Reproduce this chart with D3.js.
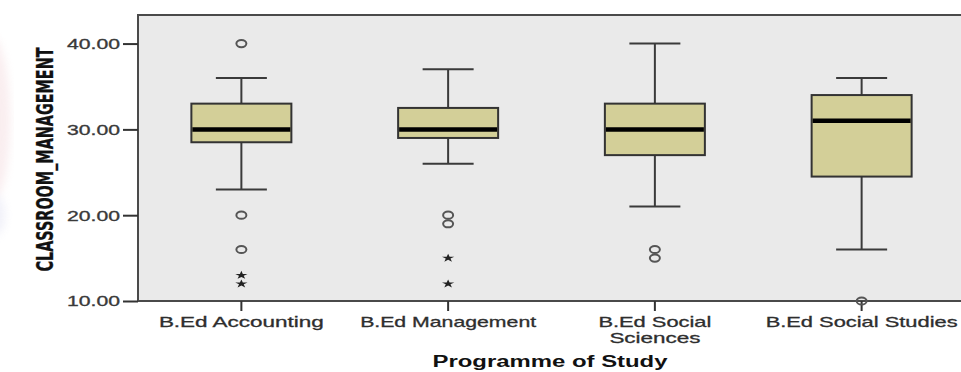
<!DOCTYPE html>
<html>
<head>
<meta charset="utf-8">
<script src="https://cdn.jsdelivr.net/npm/d3@7"></script>
<style>
  html, body { margin: 0; padding: 0; background: #ffffff; }
  svg { display: block; }
</style>
</head>
<body>
<svg id="chart" width="961" height="372"></svg>
<script>
// Boxplot of classroom management scores by programme of study
const categories = ["B.Ed Accounting", "B.Ed Management", "B.Ed Social Sciences", "B.Ed Social Studies"];
const categoryLines = [["B.Ed Accounting"], ["B.Ed Management"], ["B.Ed Social", "Sciences"], ["B.Ed Social Studies"]];
const whiskerLow  = [23, 26, 21, 16];
const q1          = [28.5, 29, 27, 24.5];
const median      = [30, 30, 30, 31];
const q3          = [33, 32.5, 33, 34];
const whiskerHigh = [36, 37, 40, 36];
// outliers (circles) and extreme values (stars)
const outlierCircles = [[40, 20, 16], [20, 19], [16, 15], [10]];
const extremeStars   = [[13, 12], [15, 12], [], []];
const yTicks = [10, 20, 30, 40];

const svg = d3.select("#chart");
const plot = { left: 138, right: 965, top: 15, bottom: 301 };

const x = d3.scaleBand().domain(categories).range([plot.left, plot.right]).padding(0);
const y = d3.scaleLinear().domain([10, 43.33]).range([plot.bottom, plot.top]);

const boxW = 100, capW = 51;
const fontFam = "Arial, 'Liberation Sans', Helvetica, sans-serif";

// faint page mark along the left edge
const defs = svg.append("defs");
defs.append("filter").attr("id", "soft").append("feGaussianBlur").attr("stdDeviation", 4);
const mark = svg.append("g").attr("filter", "url(#soft)").attr("opacity", 0.4);
mark.append("ellipse").attr("cx", -10).attr("cy", 120).attr("rx", 20).attr("ry", 85).attr("fill", "#f2d4d8");
mark.append("ellipse").attr("cx", -8).attr("cy", 215).attr("rx", 13).attr("ry", 22).attr("fill", "#dcdcf0");

// panel
svg.append("rect")
  .attr("x", plot.left).attr("y", plot.top)
  .attr("width", plot.right - plot.left).attr("height", plot.bottom - plot.top)
  .attr("fill", "#eaeaea").attr("stroke", "#4a4a4a").attr("stroke-width", 2);

// y axis
const yAxis = svg.append("g")
  .attr("transform", `translate(${plot.left},0)`)
  .call(d3.axisLeft(y).tickValues(yTicks).tickSize(15).tickPadding(3).tickFormat(d3.format(".2f")));
yAxis.select(".domain").remove();
yAxis.selectAll(".tick line").attr("stroke", "#333").attr("stroke-width", 2);
yAxis.selectAll(".tick text")
  .attr("font-family", fontFam).attr("font-size", 15.5).attr("fill", "#3a3a3a")
  .attr("stroke", "#3a3a3a").attr("stroke-width", 0.35)
  .attr("textLength", 53).attr("lengthAdjust", "spacingAndGlyphs");

// x axis
const xAxis = svg.append("g")
  .attr("transform", `translate(0,${plot.bottom})`)
  .call(d3.axisBottom(x).tickSize(10).tickFormat(""));
xAxis.select(".domain").remove();
xAxis.selectAll(".tick line").attr("stroke", "#333").attr("stroke-width", 2);

const labelWidths = [[165], [176], [113, 91], [192]];
categories.forEach((c, i) => {
  const cx = x(c) + x.bandwidth() / 2;
  categoryLines[i].forEach((ln, j) => {
    svg.append("text")
      .attr("x", cx).attr("y", 327 + j * 16)
      .attr("text-anchor", "middle")
      .attr("font-family", fontFam).attr("font-size", 14.5).attr("fill", "#2e2e2e")
      .attr("stroke", "#2e2e2e").attr("stroke-width", 0.3)
      .attr("textLength", labelWidths[i][j]).attr("lengthAdjust", "spacingAndGlyphs")
      .text(ln);
  });
});

// axis titles
svg.append("text")
  .attr("x", 550).attr("y", 366.5)
  .attr("text-anchor", "middle")
  .attr("font-family", fontFam).attr("font-size", 16).attr("font-weight", "bold").attr("fill", "#111")
  .attr("textLength", 235).attr("lengthAdjust", "spacingAndGlyphs")
  .text("Programme of Study");

svg.append("text")
  .attr("transform", `translate(52.5,159.5) rotate(-90)`)
  .attr("text-anchor", "middle")
  .attr("font-family", "'Liberation Sans Narrow', 'DejaVu Sans Condensed', Arial, sans-serif")
  .attr("font-size", 22.5).attr("font-weight", "bold").attr("fill", "#111")
  .attr("stroke", "#111").attr("stroke-width", 0.3)
  .attr("textLength", 224).attr("lengthAdjust", "spacingAndGlyphs")
  .text("CLASSROOM_MANAGEMENT");

// boxes
const g = svg.append("g");
categories.forEach((c, i) => {
  const cx = x(c) + x.bandwidth() / 2;
  const grp = g.append("g");
  // whiskers
  grp.append("line").attr("x1", cx).attr("x2", cx).attr("y1", y(whiskerHigh[i])).attr("y2", y(q3[i]))
    .attr("stroke", "#3a3a3a").attr("stroke-width", 2);
  grp.append("line").attr("x1", cx).attr("x2", cx).attr("y1", y(q1[i])).attr("y2", y(whiskerLow[i]))
    .attr("stroke", "#3a3a3a").attr("stroke-width", 2);
  [whiskerHigh[i], whiskerLow[i]].forEach(v => {
    grp.append("line").attr("x1", cx - capW / 2).attr("x2", cx + capW / 2).attr("y1", y(v)).attr("y2", y(v))
      .attr("stroke", "#3a3a3a").attr("stroke-width", 2);
  });
  // box
  grp.append("rect")
    .attr("x", cx - boxW / 2).attr("y", y(q3[i]))
    .attr("width", boxW).attr("height", y(q1[i]) - y(q3[i]))
    .attr("fill", "#d3cf98").attr("stroke", "#333").attr("stroke-width", 2);
  // median
  grp.append("line").attr("x1", cx - boxW / 2 + 1).attr("x2", cx + boxW / 2 - 1)
    .attr("y1", y(median[i])).attr("y2", y(median[i]))
    .attr("stroke", "#000").attr("stroke-width", 4.5);
  // outliers
  outlierCircles[i].forEach(v => {
    grp.append("ellipse").attr("cx", cx).attr("cy", y(v)).attr("rx", 5).attr("ry", 3.6)
      .attr("fill", "none").attr("stroke", "#555").attr("stroke-width", 2);
  });
  extremeStars[i].forEach(v => {
    grp.append("path")
      .attr("d", d3.symbol(d3.symbolStar, 30)())
      .attr("transform", `translate(${cx},${y(v)}) scale(1.25,0.85)`)
      .attr("fill", "#222");
  });
});
</script>
</body>
</html>
